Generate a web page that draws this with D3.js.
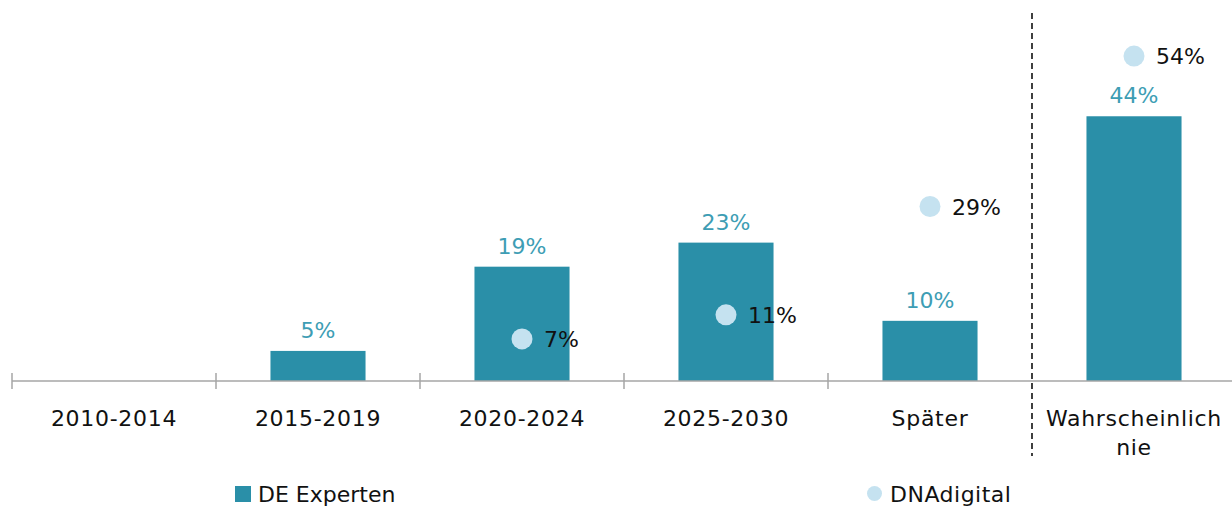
<!DOCTYPE html>
<html>
<head>
<meta charset="utf-8">
<script src="https://cdn.jsdelivr.net/npm/d3@7"></script>
<style>
  body { margin: 0; background: #fff; }
  text { font-family: "DejaVu Sans", sans-serif; }
</style>
</head>
<body>
<svg id="chart" width="1232" height="506"></svg>
<script>
// data
var categories = ["2010-2014", "2015-2019", "2020-2024", "2025-2030", "Später", "Wahrscheinlich nie"];
var deExperten = [0, 5, 19, 23, 10, 44];
var dnaDigital = [null, null, 7, 11, 29, 54];
var seriesNames = ["DE Experten", "DNAdigital"];

var barColor = "#2a8fa8";
var barLabelColor = "#3d9db4";
var dotColor = "#c5e2f0";
var fontSize = 22;

var svg = d3.select("#chart");
var axisY = 381;

var x = d3.scaleBand()
  .domain(categories)
  .range([12, 1236])
  .padding(0);

var y = d3.scaleLinear()
  .domain([0, 60])
  .range([axisY, 20]);

var barW = x.bandwidth() * 0.466;

// bars
var barData = categories.map(function(c, i) { return {cat: c, value: deExperten[i]}; })
  .filter(function(d) { return d.value > 0; });

svg.append("g").selectAll("rect")
  .data(barData)
  .enter()
  .append("rect")
  .attr("x", function(d) { return x(d.cat) + x.bandwidth() / 2 - barW / 2; })
  .attr("y", function(d) { return y(d.value); })
  .attr("width", barW)
  .attr("height", function(d) { return axisY - y(d.value); })
  .attr("fill", barColor);

svg.append("g").selectAll("text")
  .data(barData)
  .enter()
  .append("text")
  .attr("x", function(d) { return x(d.cat) + x.bandwidth() / 2; })
  .attr("y", function(d) { return y(d.value) - 13; })
  .attr("text-anchor", "middle")
  .attr("font-size", fontSize)
  .attr("fill", barLabelColor)
  .text(function(d) { return d.value + "%"; });

// axis line + ticks at category boundaries
svg.append("line")
  .attr("x1", 12).attr("x2", 1232)
  .attr("y1", axisY).attr("y2", axisY)
  .attr("stroke", "#a6a6a6").attr("stroke-width", 1.5);

svg.append("g").selectAll("line")
  .data(categories.slice(0, 5))
  .enter()
  .append("line")
  .attr("x1", function(d) { return x(d); })
  .attr("x2", function(d) { return x(d); })
  .attr("y1", axisY - 8).attr("y2", axisY + 8)
  .attr("stroke", "#a6a6a6").attr("stroke-width", 1.5);

// category labels
var catLabels = svg.append("g").selectAll("text")
  .data(categories)
  .enter()
  .append("text")
  .attr("text-anchor", "middle")
  .attr("font-size", fontSize)
  .attr("letter-spacing", 0.7)
  .attr("fill", "#111");

catLabels.each(function(d) {
  var words = d.split(" ");
  var t = d3.select(this);
  words.forEach(function(w, j) {
    t.append("tspan")
      .attr("x", x(d) + x.bandwidth() / 2)
      .attr("y", 426 + j * 29)
      .text(w);
  });
});

// dashed divider before the last category
var lastCat = categories[categories.length - 1];
svg.append("line")
  .attr("x1", x(lastCat)).attr("x2", x(lastCat))
  .attr("y1", 13).attr("y2", 456)
  .attr("stroke", "#111").attr("stroke-width", 1.6)
  .attr("stroke-dasharray", "6,4");

// dots
var dotData = categories.map(function(c, i) { return {cat: c, value: dnaDigital[i]}; })
  .filter(function(d) { return d.value != null; });

svg.append("g").selectAll("circle")
  .data(dotData)
  .enter()
  .append("circle")
  .attr("cx", function(d) { return x(d.cat) + x.bandwidth() / 2; })
  .attr("cy", function(d) { return y(d.value); })
  .attr("r", 10.5)
  .attr("fill", dotColor);

svg.append("g").selectAll("text")
  .data(dotData)
  .enter()
  .append("text")
  .attr("x", function(d) { return x(d.cat) + x.bandwidth() / 2 + 22; })
  .attr("y", function(d) { return y(d.value) + 8; })
  .attr("font-size", fontSize)
  .attr("fill", "#111")
  .text(function(d) { return d.value + "%"; });

// legend
var legend = svg.append("g");
legend.append("rect")
  .attr("x", 235).attr("y", 486).attr("width", 16).attr("height", 16)
  .attr("fill", barColor);
legend.append("text")
  .attr("x", 258).attr("y", 502)
  .attr("font-size", fontSize)
  .attr("fill", "#111")
  .text(seriesNames[0]);
legend.append("circle")
  .attr("cx", 874.5).attr("cy", 493.5).attr("r", 7.5)
  .attr("fill", dotColor);
legend.append("text")
  .attr("x", 890).attr("y", 502)
  .attr("font-size", fontSize)
  .attr("letter-spacing", 0.5)
  .attr("fill", "#111")
  .text(seriesNames[1]);
</script>
</body>
</html>
